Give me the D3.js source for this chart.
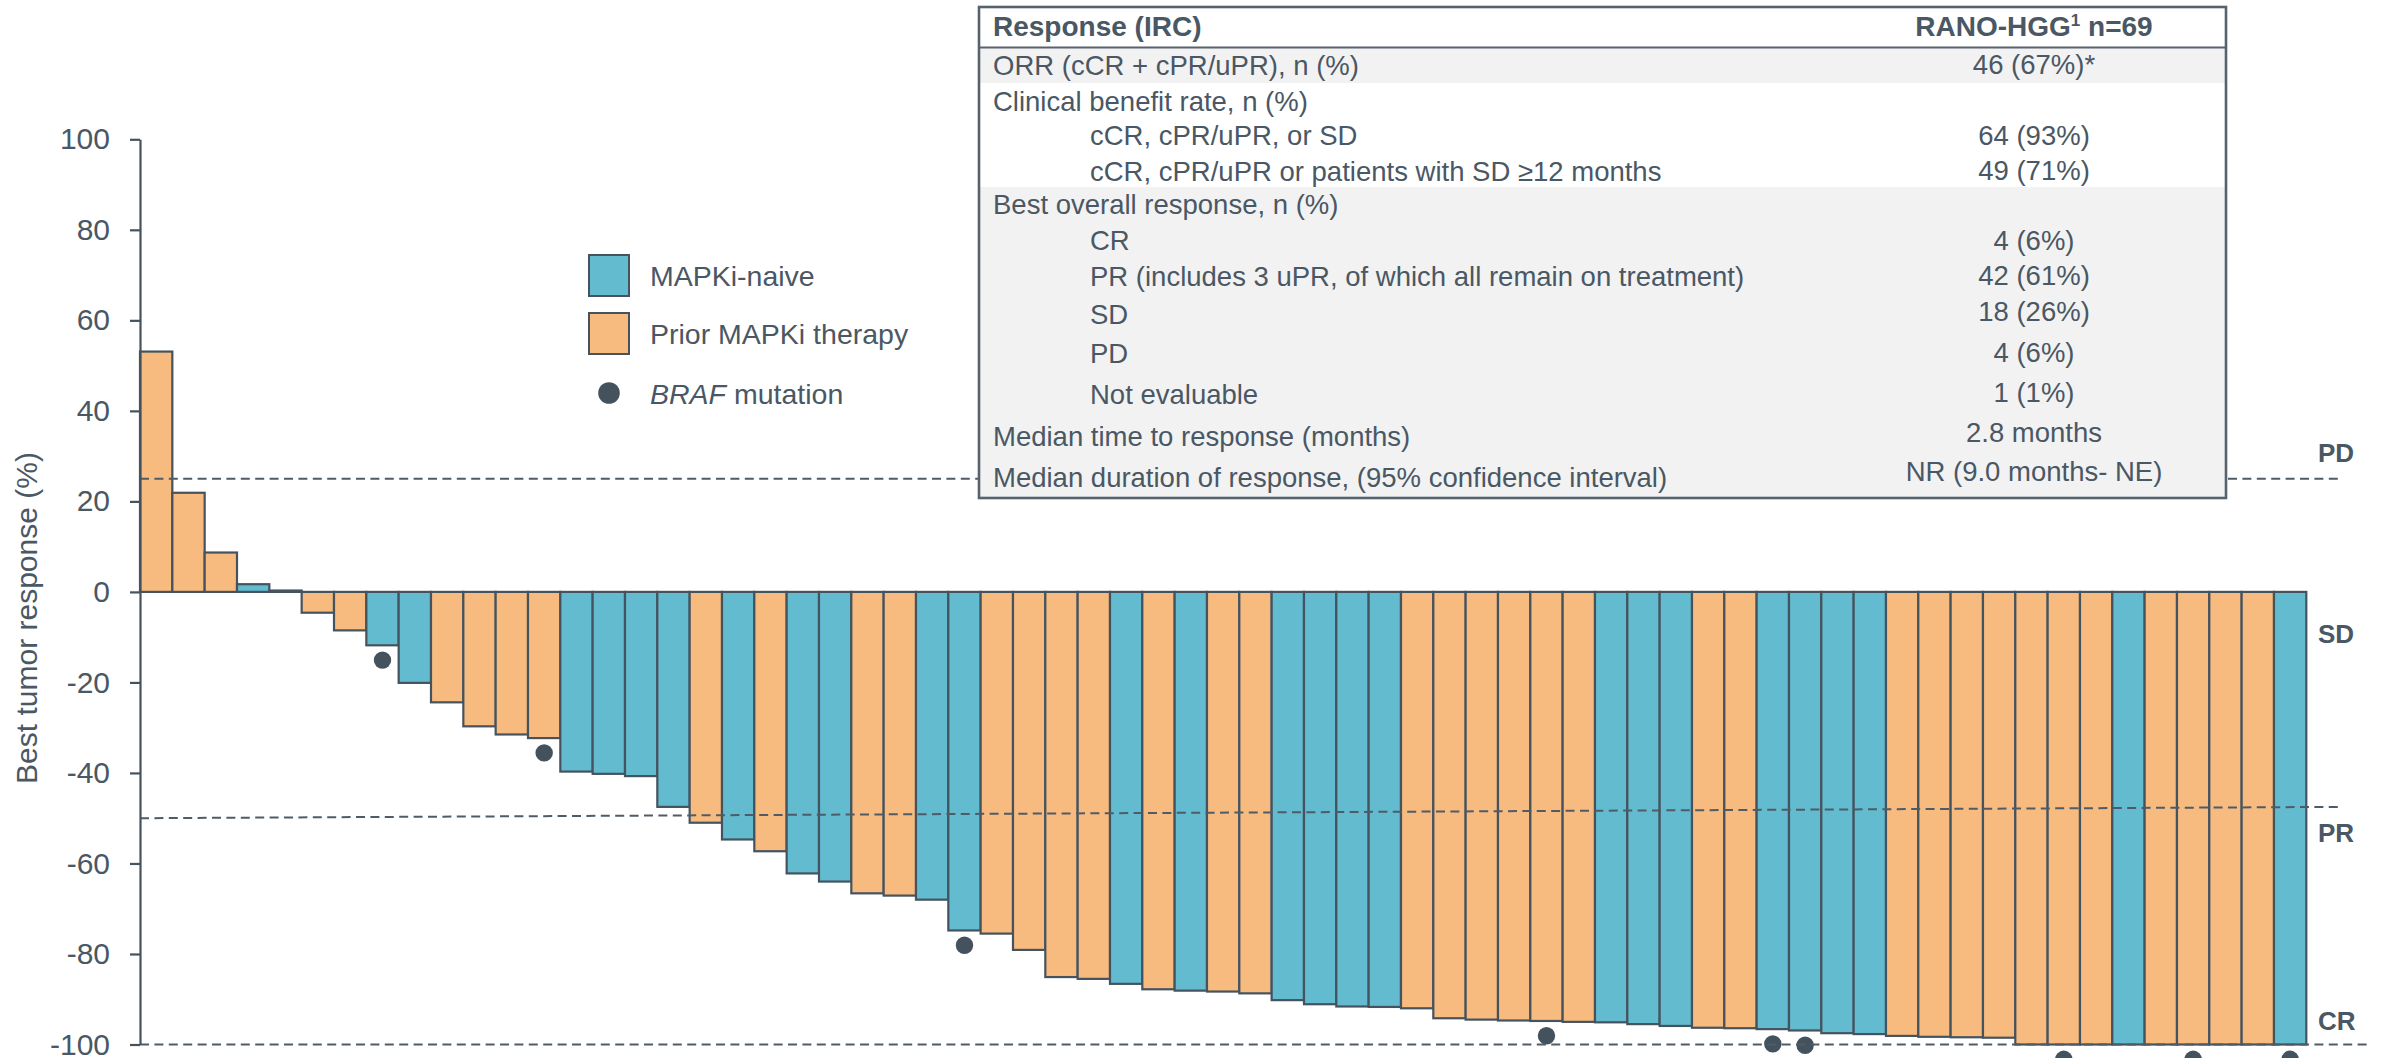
<!DOCTYPE html>
<html>
<head>
<meta charset="utf-8">
<script src="https://cdn.jsdelivr.net/npm/d3@7"></script>
<style>
  html, body { margin: 0; padding: 0; background: #ffffff; }
  svg { display: block; }
  text { font-family: "Liberation Sans", Arial, Helvetica, sans-serif; }
</style>
</head>
<body>
<svg id="chart" width="2382" height="1058"></svg>
<script>
// ---- Data -------------------------------------------------------------
// Best percentage change in tumor size per patient, sorted from largest growth to complete shrinkage
const responses = [
  53.1, 21.9, 8.7, 1.7, 0.3, -4.6, -8.5, -11.8, -20.1, -24.4,
  -29.7, -31.5, -32.3, -39.7, -40.2, -40.7, -47.5, -51.0, -54.7, -57.3,
  -62.2, -64.0, -66.6, -67.1, -68.0, -74.8, -75.5, -79.1, -85.1, -85.5,
  -86.6, -87.8, -88.1, -88.3, -88.7, -90.2, -91.1, -91.6, -91.7, -92.0,
  -94.2, -94.5, -94.7, -94.8, -95.0, -95.1, -95.5, -95.9, -96.3, -96.4,
  -96.6, -96.9, -97.5, -97.7, -98.1, -98.3, -98.4, -98.5, -100, -100,
  -100, -100, -100, -100, -100, -100, -100
];

// Prior therapy group per patient: "naive" = MAPKi-naive, "prior" = prior MAPKi therapy
const cohorts = [
  "prior", "prior", "prior", "naive", "prior", "prior", "prior", "naive", "naive", "prior",
  "prior", "prior", "prior", "naive", "naive", "naive", "naive", "prior", "naive", "prior",
  "naive", "naive", "prior", "prior", "naive", "naive", "prior", "prior", "prior", "prior",
  "naive", "prior", "naive", "prior", "prior", "naive", "naive", "naive", "naive", "prior",
  "prior", "prior", "prior", "prior", "prior", "naive", "naive", "naive", "prior", "prior",
  "naive", "naive", "naive", "naive", "prior", "prior", "prior", "prior", "prior", "prior",
  "prior", "naive", "prior", "prior", "prior", "prior", "naive"
];

// Patients (1-based position in the waterfall) carrying a BRAF mutation
const brafPatients = [8, 13, 26, 44, 51, 52, 60, 64, 67];

// Patient positions along the x axis
const patientIds = responses.map((_, i) => i + 1);

// Y-axis ticks
const yTicks = [100, 80, 60, 40, 20, 0, -20, -40, -60, -80, -100];

// Response thresholds (dashed reference lines); the PR line drifts slightly upward to the right
const thresholdNames = ["PD", "PR", "CR"];
const thresholdStart = [25, -50, -100];
const thresholdEnd   = [25, -47.5, -100];

// Response category labels on the right edge
const zoneNames = ["PD", "SD", "PR", "CR"];

// Legend
const legendLabels = ["MAPKi-naive", "Prior MAPKi therapy"];
const legendKeys = ["naive", "prior"];

// Summary table
const tableHeader = ["Response (IRC)", "RANO-HGG", "1", " n=69"];
const rowLabels = [
  "ORR (cCR + cPR/uPR), n (%)",
  "Clinical benefit rate, n (%)",
  "cCR, cPR/uPR, or SD",
  "cCR, cPR/uPR or patients with SD \u226512 months",
  "Best overall response, n (%)",
  "CR",
  "PR (includes 3 uPR, of which all remain on treatment)",
  "SD",
  "PD",
  "Not evaluable",
  "Median time to response (months)",
  "Median duration of response, (95% confidence interval)"
];
const rowValues = [
  "46 (67%)*", "", "64 (93%)", "49 (71%)", "", "4 (6%)", "42 (61%)",
  "18 (26%)", "4 (6%)", "1 (1%)", "2.8 months", "NR (9.0 months- NE)"
];
const rowIndented = [false, false, true, true, false, true, true, true, true, true, false, false];

// ---- Styling -------------------------------------------------------------
const INK = "#4a5764";
const EDGE = "#45535f";
const colors = { naive: "#62bbcf", prior: "#f8bb7f" };

// ---- Scales -------------------------------------------------------------
const svg = d3.select("#chart");

const x = d3.scaleBand()
  .domain(patientIds)
  .range([140, 2306.3])
  .paddingInner(0)
  .paddingOuter(0);

const y = d3.scaleLinear()
  .domain([-100, 100])
  .range([1044.5, 139.3]);

const rows = patientIds.map((id, i) => ({
  id,
  value: responses[i],
  cohort: cohorts[i],
  braf: brafPatients.includes(id)
}));

// ---- Bars -------------------------------------------------------------
svg.append("g")
  .selectAll("rect")
  .data(rows)
  .join("rect")
  .attr("x", d => x(d.id))
  .attr("width", x.bandwidth())
  .attr("y", d => Math.min(y(d.value), y(0)))
  .attr("height", d => Math.abs(y(d.value) - y(0)))
  .attr("fill", d => colors[d.cohort])
  .attr("stroke", EDGE)
  .attr("stroke-width", 2.2);

// BRAF markers sit just below the end of each bar
svg.append("g")
  .selectAll("circle")
  .data(rows.filter(d => d.braf))
  .join("circle")
  .attr("cx", d => x(d.id) + x.bandwidth() / 2)
  .attr("cy", d => y(d.value) + 14.8)
  .attr("r", 8.7)
  .attr("fill", "#44525e");

// ---- Threshold lines -------------------------------------------------------------
const lineEnds = { PD: 2341, PR: 2341, CR: 2368 };
svg.append("g")
  .selectAll("line")
  .data(thresholdNames.map((n, i) => ({ name: n, v0: thresholdStart[i], v1: thresholdEnd[i] })))
  .join("line")
  .attr("x1", 140)
  .attr("x2", d => lineEnds[d.name])
  .attr("y1", d => y(d.v0))
  .attr("y2", d => y(d.v1))
  .attr("stroke", "#4f5c68")
  .attr("stroke-width", 2)
  .attr("stroke-dasharray", "9,5.4");

// ---- Y axis -------------------------------------------------------------
const yAxis = svg.append("g")
  .attr("transform", "translate(140,0)")
  .call(d3.axisLeft(y)
    .tickValues(yTicks)
    .tickFormat(d => String(d))
    .tickSize(10)
    .tickSizeOuter(0)
    .tickPadding(20));
yAxis.select(".domain").attr("stroke", EDGE).attr("stroke-width", 2.2);
yAxis.selectAll(".tick line").attr("stroke", EDGE).attr("stroke-width", 2.2);
yAxis.selectAll(".tick text")
  .attr("fill", INK)
  .style("font-size", "30px")
  .style("font-family", "'Liberation Sans', Arial, sans-serif");

svg.append("text")
  .attr("transform", "translate(36.5,618) rotate(-90)")
  .attr("text-anchor", "middle")
  .attr("fill", INK)
  .style("font-size", "30px")
  .text("Best tumor response (%)");

// ---- Response zone labels -------------------------------------------------------------
const zoneY = { PD: y(25) - 16.5, SD: y(-11.3), PR: y(-55.3), CR: y(-96.7) };
svg.append("g")
  .selectAll("text")
  .data(zoneNames)
  .join("text")
  .attr("x", 2318)
  .attr("y", d => zoneY[d])
  .attr("fill", INK)
  .style("font-size", "26px")
  .style("font-weight", "bold")
  .text(d => d);

// ---- Legend -------------------------------------------------------------
const legend = svg.append("g");
legendKeys.forEach((k, i) => {
  const top = 255 + i * 58;
  legend.append("rect")
    .attr("x", 589).attr("y", top)
    .attr("width", 40).attr("height", 41)
    .attr("fill", colors[k])
    .attr("stroke", EDGE)
    .attr("stroke-width", 2);
  legend.append("text")
    .attr("x", 650).attr("y", top + 31)
    .attr("fill", INK)
    .style("font-size", "28.5px")
    .text(legendLabels[i]);
});
legend.append("circle")
  .attr("cx", 609).attr("cy", 393)
  .attr("r", 10.8)
  .attr("fill", "#44525e");
const brafText = legend.append("text")
  .attr("x", 650).attr("y", 404)
  .attr("fill", INK)
  .style("font-size", "28.5px");
brafText.append("tspan").style("font-style", "italic").text("BRAF");
brafText.append("tspan").text(" mutation");

// ---- Summary table -------------------------------------------------------------
const T = { left: 979, right: 2226, top: 7, bottom: 498, headerLine: 47.5, valueX: 2034 };
const table = svg.append("g");

table.append("rect")
  .attr("x", T.left).attr("y", T.top)
  .attr("width", T.right - T.left).attr("height", T.bottom - T.top)
  .attr("fill", "#ffffff");

// shaded row bands
[[T.headerLine, 83], [187, T.bottom]].forEach(([a, b]) => {
  table.append("rect")
    .attr("x", T.left).attr("y", a)
    .attr("width", T.right - T.left).attr("height", b - a)
    .attr("fill", "#f2f2f2");
});

table.append("line")
  .attr("x1", T.left).attr("x2", T.right)
  .attr("y1", T.headerLine).attr("y2", T.headerLine)
  .attr("stroke", "#56626d").attr("stroke-width", 2.2);

table.append("rect")
  .attr("x", T.left).attr("y", T.top)
  .attr("width", T.right - T.left).attr("height", T.bottom - T.top)
  .attr("fill", "none")
  .attr("stroke", "#56626d")
  .attr("stroke-width", 2.6);

table.append("text")
  .attr("x", 993).attr("y", 36)
  .attr("fill", INK)
  .style("font-size", "28px").style("font-weight", "bold")
  .text(tableHeader[0]);

const hdr = table.append("text")
  .attr("x", T.valueX).attr("y", 36)
  .attr("text-anchor", "middle")
  .attr("fill", INK)
  .style("font-size", "28px").style("font-weight", "bold");
hdr.append("tspan").text(tableHeader[1]);
hdr.append("tspan").attr("dy", -10).style("font-size", "17px").text(tableHeader[2]);
hdr.append("tspan").attr("dy", 10).text(tableHeader[3]);

const labelBase = [75, 111, 145, 181, 214, 250, 286, 324, 363, 404, 446, 487];
const valueBase = [74, 111, 145, 180, 214, 250, 285, 321, 362, 402, 442, 481];

table.append("g")
  .selectAll("text")
  .data(rowLabels)
  .join("text")
  .attr("x", (d, i) => rowIndented[i] ? 1090 : 993)
  .attr("y", (d, i) => labelBase[i])
  .attr("fill", INK)
  .style("font-size", "27.5px")
  .text(d => d);

table.append("g")
  .selectAll("text")
  .data(rowValues)
  .join("text")
  .attr("x", T.valueX)
  .attr("y", (d, i) => valueBase[i])
  .attr("text-anchor", "middle")
  .attr("fill", INK)
  .style("font-size", "27.5px")
  .text(d => d);
</script>
</body>
</html>
